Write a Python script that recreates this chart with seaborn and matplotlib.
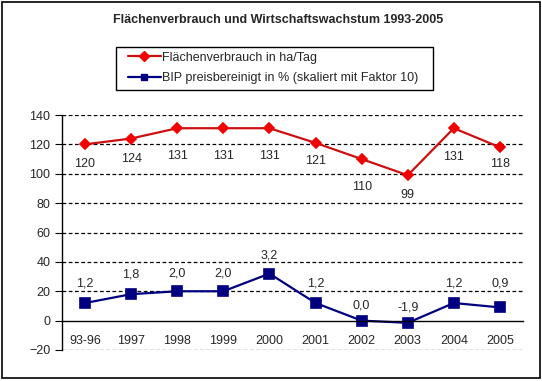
import matplotlib
matplotlib.use("Agg")
import matplotlib.pyplot as plt
import seaborn as sns
import pandas as pd
from matplotlib.lines import Line2D
from matplotlib.patches import Rectangle
from matplotlib.ticker import FixedLocator

# Chart data
years = ["93-96", "1997", "1998", "1999", "2000", "2001", "2002", "2003", "2004", "2005"]
flaeche = [120, 124, 131, 131, 131, 121, 110, 99, 131, 118]
bip_labels = ["1,2", "1,8", "2,0", "2,0", "3,2", "1,2", "0,0", "-1,9", "1,2", "0,9"]
bip_plotted = [12, 18, 20, 20, 32, 12, 0, -1.5, 12, 9]
y_ticks = [-20, 0, 20, 40, 60, 80, 100, 120, 140]

# label offsets in points (layout only, placed like the hand-moved labels in the original)
red_offsets = [-13, -14, -19, -19, -19, -12, -19, -13, -20, -11]
blue_offsets = [15, 15, 14, 14, 14, 15, 12, 12, 15, 18]

red_line = "#CC1010"
red_marker = "#F00000"
navy = "#000080"

sns.set_style("white")
plt.rcParams["font.family"] = ["Liberation Sans", "DejaVu Sans"]

fig = plt.figure(figsize=(5.42, 3.81), dpi=100)
ax = fig.add_axes([62 / 542, 1 - 350 / 381, (523 - 62) / 542, (350 - 115) / 381])

df = pd.DataFrame({"Jahr": years, "flaeche": flaeche, "bip": bip_plotted})

sns.pointplot(data=df, x="Jahr", y="flaeche", color=red_line, markers="D",
              linestyles="-", ax=ax, markersize=5.5, linewidth=1.6,
              markerfacecolor=red_marker, markeredgecolor=red_marker)
sns.pointplot(data=df, x="Jahr", y="bip", color=navy, markers="s",
              linestyles="-", ax=ax, markersize=6.5, linewidth=1.6)

# data labels
for i, v in enumerate(flaeche):
    ax.annotate(str(v), (i, v), xytext=(0, red_offsets[i]), textcoords="offset points",
                ha="center", va="center_baseline", fontsize=9)
for i, (v, lab) in enumerate(zip(bip_plotted, bip_labels)):
    ax.annotate(lab, (i, v), xytext=(0, blue_offsets[i]), textcoords="offset points",
                ha="center", va="center_baseline", fontsize=9)

ax.set_ylim(-20, 140)
ax.set_xlim(-0.5, len(years) - 0.5)
ax.set_yticks(y_ticks)
ax.set_xlabel("")
ax.set_ylabel("")

for y in y_ticks:
    if y != 0:
        ax.axhline(y, color="black", linestyle=(0, (3, 2)), linewidth=0.9, zorder=0)

for s in ["top", "right"]:
    ax.spines[s].set_visible(False)
ax.spines["bottom"].set_position(("data", 0))
for s in ["left", "bottom"]:
    ax.spines[s].set_linewidth(1.0)
    ax.spines[s].set_color("black")

ax.tick_params(axis="x", which="major", length=0, pad=10, labelsize=9)
ax.xaxis.set_minor_locator(FixedLocator([i + 0.5 for i in range(len(years))]))
ax.tick_params(axis="x", which="minor", length=5, direction="out", color="black", width=1)
ax.tick_params(axis="y", length=5, direction="out", color="black", labelsize=9, left=True)

fig.text(278 / 542, 1 - 20 / 381, "Flächenverbrauch und Wirtschaftswachstum 1993-2005",
         ha="center", va="center", fontsize=9, fontweight="bold")

handles = [
    Line2D([], [], color=red_line, marker="D", markersize=5,
           markerfacecolor=red_marker, markeredgecolor=red_marker, linewidth=1.6),
    Line2D([], [], color=navy, marker="s", markersize=5, linewidth=1.6),
]
fig.legend(handles, ["Flächenverbrauch in ha/Tag",
                     "BIP preisbereinigt in % (skaliert mit Faktor 10)"],
           loc="center left", bbox_to_anchor=(128 / 542, 1 - 68 / 381), fontsize=9,
           frameon=False, handlelength=2.6, handletextpad=0.15, borderpad=0.0,
           borderaxespad=0, labelspacing=0.68)
fig.patches.append(Rectangle((116 / 542, 1 - 90 / 381), 317 / 542, 43 / 381,
                             transform=fig.transFigure, fill=False,
                             edgecolor="black", linewidth=1.0))

fig.patches.append(Rectangle((2 / 542, 3 / 381), 538 / 542, 376 / 381,
                             transform=fig.transFigure, fill=False,
                             edgecolor="black", linewidth=1.2))

fig.savefig("out.png", dpi=100)
